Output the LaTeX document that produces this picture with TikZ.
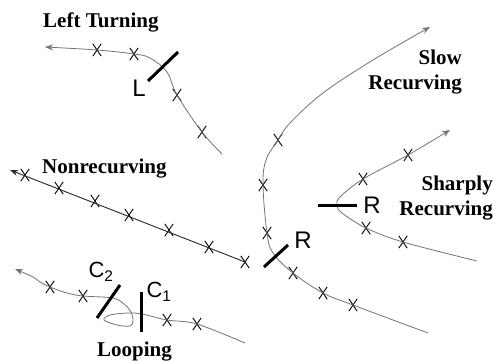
\documentclass[tikz,border=0pt]{standalone}
\usepackage{fontspec}
\setmainfont{Liberation Serif}
\newfontfamily\lsans{Liberation Sans}
\usetikzlibrary{shapes.misc,arrows.meta}
\begin{document}
\begin{tikzpicture}[x=1pt,y=-1pt,
 track/.style={draw=black!55,line width=0.8pt},
 dtrack/.style={draw=black!85,line width=0.9pt},
 xm/.style={cross out,draw=black,line width=0.9pt,minimum width=7.5pt,minimum height=11.5pt,inner sep=0pt},
 tickline/.style={line width=3pt,black},
 title/.style={font=\fontsize{21}{23}\selectfont\bfseries,inner sep=0pt},
 lab/.style={font=\lsans\fontsize{24}{26}\selectfont,inner sep=0pt},
 clab/.style={font=\lsans\fontsize{22}{24}\selectfont,inner sep=0pt},
 tip/.style={-{Stealth[length=8pt,width=6pt]}}]
\useasboundingbox (0,0) rectangle (493,361);
\fill[white] (0,0) rectangle (493,361);

% ---------- Left Turning ----------
\node[title,anchor=base west] (tLT) at (43,28) {Left Turning};
\node[xm] (lt1) at (202,132) {};
\node[xm] (lt2) at (177,95) {};
\node[xm] (lt3) at (134,54) {};
\node[xm] (lt4) at (97,50) {};
\coordinate (ltS) at (222,154);
\coordinate (ltA) at (167,72);
\coordinate (ltB) at (150,58);
\coordinate (ltE) at (45,47);
\draw[track,tip] plot[smooth,tension=0.6] coordinates {(ltS) (lt1.center) (lt2.center) (ltA) (ltB) (lt3.center) (lt4.center) (ltE)};
\draw[tickline] (148,81) -- (178,52);
\node[lab] (L) at (139,88) {L};

% ---------- Nonrecurving ----------
\node[title,anchor=base west] (tNR) at (42,173) {Nonrecurving};
\node[xm] (n1) at (245,262) {};
\node[xm] (n2) at (209,247) {};
\node[xm] (n3) at (169,230) {};
\node[xm] (n4) at (129,215) {};
\node[xm] (n5) at (95,201) {};
\node[xm] (n6) at (59,188) {};
\node[xm] (n7) at (25,175) {};
\coordinate (nE) at (10,170);
\draw[dtrack,tip] (n1.center) -- (nE);

% ---------- Looping ----------
\node[title,anchor=base west] (tLP) at (97,356) {Looping};
\node[xm] (lp1) at (197,324) {};
\node[xm] (lp2) at (167,320) {};
\node[xm] (lp3) at (83,296) {};
\node[xm] (lp4) at (50,287) {};
\coordinate (lpS) at (245,343);
\coordinate (lpE) at (15,269);
\draw[track,tip] plot[smooth,tension=0.55] coordinates {(lpS) (lp1.center) (lp2.center) (142,314) (128,313) (110,315) (104,320) (117,325) (130,326) (133,321) (131,312) (124,304) (113,298) (lp3.center) (67,293) (lp4.center) (40,282) (33,277) (lpE)};
\draw[tickline] (97,318) -- (120,285);
\draw[tickline] (141,292) -- (141,332);
\node[clab] (C2) at (101,272) {C\textsubscript{2}};
\node[clab] (C1) at (159,292) {C\textsubscript{1}};

% ---------- Slow Recurving ----------
\node[title,anchor=base east] (tSR1) at (462,65) {Slow};
\node[title,anchor=base east] (tSR2) at (462,90) {Recurving};
\node[xm] (s1) at (353,305) {};
\node[xm] (s2) at (323,293) {};
\node[xm] (s3) at (293,273) {};
\node[xm] (s4) at (267,233) {};
\node[xm] (s5) at (263,185) {};
\node[xm] (s6) at (278,140) {};
\coordinate (sS) at (428,333);
\coordinate (sE) at (430,27);
\draw[track,tip] plot[smooth,tension=0.6] coordinates {(sS) (s1.center) (s2.center) (s3.center) (273,253) (s4.center) (s5.center) (266,160) (s6.center) (290,123) (323,93) (373,60) (sE)};
\draw[tickline] (264,267) -- (288,245);
\node[lab] (R1) at (303,240) {R};

% ---------- Sharply Recurving ----------
\node[title,anchor=base east] (tSH1) at (493,190) {Sharply};
\node[title,anchor=base east] (tSH2) at (493,215) {Recurving};
\node[xm] (h1) at (403,242) {};
\node[xm] (h2) at (366,228) {};
\node[xm] (h3) at (363,179) {};
\node[xm] (h4) at (408,155) {};
\coordinate (hS) at (477,261);
\coordinate (hE) at (450,130);
\draw[track,tip] plot[smooth,tension=0.55] coordinates {(hS) (h1.center) (h2.center) (342,213) (337,205) (340,197) (h3.center) (h4.center) (hE)};
\draw[tickline] (318,205) -- (357,205);
\node[lab] (R2) at (372,205) {R};
\end{tikzpicture}
\end{document}
